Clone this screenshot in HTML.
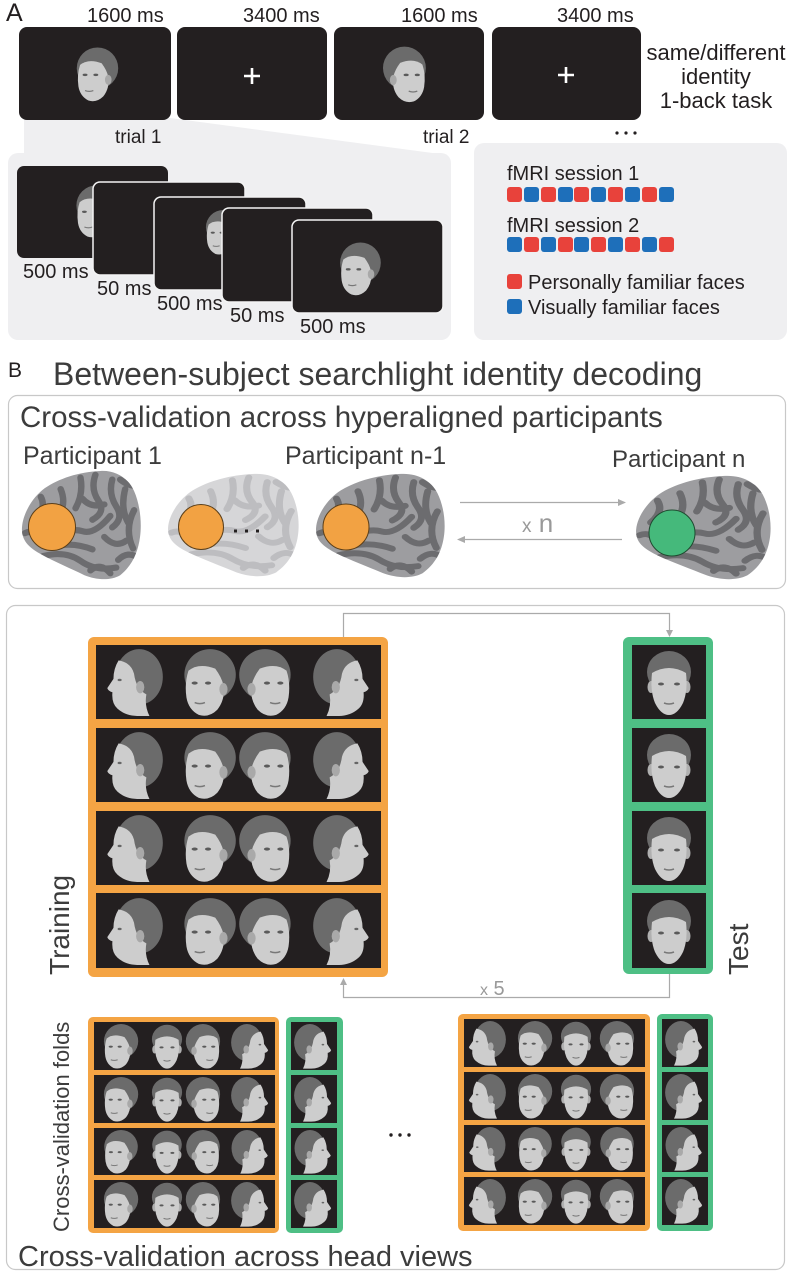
<!DOCTYPE html>
<html><head><meta charset="utf-8"><style>
html,body{margin:0;padding:0;background:#fff;}
svg{display:block;}
text{font-family:"Liberation Sans",Arial,sans-serif;fill:#231f20;}
.lt{fill:#3c3c3c;}
</style></head><body>
<svg width="792" height="1275" viewBox="0 0 792 1275" xmlns="http://www.w3.org/2000/svg" xmlns:xlink="http://www.w3.org/1999/xlink">
<defs>
 <g id="gL">
  <ellipse cx="36" cy="30" rx="23" ry="27" fill="#6b6b6b"/>
  <path d="M16,14 Q11,22 11,32 L5,41 Q6,44 10,45 Q9,56 15,61 Q23,68 34,68 L46,68 Q41,58 43,47 Q33,42 31,27 Q28,16 16,14 Z" fill="#cdcdcd"/>
  <ellipse cx="37" cy="40" rx="4" ry="6" fill="#a9a9a9"/>
  <ellipse cx="17" cy="33" rx="2" ry="1.2" fill="#666"/>
 </g>
 <g id="g3L">
  <ellipse cx="33" cy="28" rx="25" ry="25" fill="#6b6b6b"/>
  <path d="M12,24 Q22,16 38,22 Q44,30 46,38 Q48,52 40,62 Q32,70 22,67 Q12,62 10,50 Q8,36 12,24 Z" fill="#cdcdcd"/>
  <ellipse cx="46" cy="42" rx="4" ry="6" fill="#a9a9a9"/>
  <ellipse cx="18" cy="36" rx="3" ry="1.5" fill="#5a5a5a"/>
  <ellipse cx="31" cy="36" rx="3" ry="1.5" fill="#5a5a5a"/>
  <path d="M18,55 Q23,57 28,55" stroke="#777" stroke-width="1.5" fill="none"/>
 </g>
 <symbol id="hL" viewBox="0 0 60 70"><use xlink:href="#gL"/></symbol>
 <symbol id="hR" viewBox="0 0 60 70"><use xlink:href="#gL" transform="translate(60,0) scale(-1,1)"/></symbol>
 <symbol id="h3L" viewBox="0 0 60 70"><use xlink:href="#g3L"/></symbol>
 <symbol id="h3R" viewBox="0 0 60 70"><use xlink:href="#g3L" transform="translate(60,0) scale(-1,1)"/></symbol>
 <symbol id="hF" viewBox="0 0 60 70">
  <ellipse cx="30" cy="25" rx="22" ry="21" fill="#6b6b6b"/>
  <ellipse cx="12" cy="40" rx="3.5" ry="6" fill="#b0b0b0"/>
  <ellipse cx="48" cy="40" rx="3.5" ry="6" fill="#b0b0b0"/>
  <path d="M13,26 Q30,16 47,26 Q49,44 44,56 Q38,68 30,68 Q22,68 16,56 Q11,44 13,26 Z" fill="#cdcdcd"/>
  <ellipse cx="22" cy="37" rx="3" ry="1.5" fill="#5a5a5a"/>
  <ellipse cx="38" cy="37" rx="3" ry="1.5" fill="#5a5a5a"/>
  <path d="M25,56 Q30,58 35,56" stroke="#777" stroke-width="1.5" fill="none"/>
 </symbol>

 <clipPath id="bc"><path d="M1,60 C2,45 12,28 24,19 C38,9 58,2 80,1 C95,0 108,8 114,22 C120,36 122,55 120,70 C118,86 112,100 100,110 C90,116 76,115 64,110 C50,103 34,96 20,88 C10,82 0,75 1,60 Z"/></clipPath>
 <g id="gyri" fill="none" stroke-width="6.5" stroke-linecap="round" stroke-linejoin="round" clip-path="url(#bc)">
  <path d="M30,70 Q50,60 62,64 T90,48"/>
  <path d="M40,20 Q46,35 38,48 T45,62"/>
  <path d="M60,8 Q63,25 55,40"/>
  <path d="M75,5 Q70,20 78,32 T72,52"/>
  <path d="M92,10 Q88,25 96,38 T92,60"/>
  <path d="M105,20 Q100,40 108,55"/>
  <path d="M114,42 Q104,62 113,82"/>
  <path d="M22,90 Q45,84 60,95 T96,102"/>
  <path d="M34,80 Q52,75 72,83"/>
  <path d="M84,70 Q95,82 106,74"/>
  <path d="M14,52 Q26,40 20,28"/>
  <path d="M98,94 Q108,84 118,92"/>
  <path d="M62,30 Q70,40 84,36"/>
  <path d="M100,10 Q110,18 118,16"/>
  <path d="M70,105 Q80,96 90,108"/>
  <path d="M4,66 Q12,62 18,70"/>
 </g>
 <symbol id="brainD" viewBox="0 0 122 115" preserveAspectRatio="none">
  <path d="M1,60 C2,45 12,28 24,19 C38,9 58,2 80,1 C95,0 108,8 114,22 C120,36 122,55 120,70 C118,86 112,100 100,110 C90,116 76,115 64,110 C50,103 34,96 20,88 C10,82 0,75 1,60 Z" fill="#9d9da0"/>
  <use xlink:href="#gyri" stroke="#6c6c6f"/>
 </symbol>
 <symbol id="brainL" viewBox="0 0 122 115" preserveAspectRatio="none">
  <path d="M1,60 C2,45 12,28 24,19 C38,9 58,2 80,1 C95,0 108,8 114,22 C120,36 122,55 120,70 C118,86 112,100 100,110 C90,116 76,115 64,110 C50,103 34,96 20,88 C10,82 0,75 1,60 Z" fill="#d6d6d8"/>
  <use xlink:href="#gyri" stroke="#bdbdc0"/>
 </symbol>
</defs>

<!-- ===== Section A ===== -->
<text x="6" y="21" font-size="25">A</text>
<text x="87" y="22" font-size="20">1600 ms</text>
<text x="243" y="22" font-size="20">3400 ms</text>
<text x="401" y="22" font-size="20">1600 ms</text>
<text x="557" y="22" font-size="20">3400 ms</text>

<polygon points="24,118 170,118 440,154 24,154" fill="#efeff1"/>
<rect x="8" y="153" width="443" height="187" rx="10" fill="#efeff1"/>
<rect x="474" y="143" width="313" height="197" rx="10" fill="#efeff1"/>

<rect x="19" y="27" width="152" height="93" rx="8" fill="#231f20"/>
<rect x="177" y="27" width="150" height="93" rx="8" fill="#231f20"/>
<rect x="334" y="27" width="150" height="93" rx="8" fill="#231f20"/>
<rect x="492" y="27" width="149" height="93" rx="8" fill="#231f20"/>
<use xlink:href="#h3L" x="70" y="45" width="50" height="58"/>
<use xlink:href="#h3R" x="380" y="44" width="54" height="60"/>
<path d="M252,68 V84 M244,76 H260" stroke="#fff" stroke-width="2.6"/>
<path d="M566,67 V83 M558,75 H574" stroke="#fff" stroke-width="2.6"/>

<text x="115" y="143" font-size="19">trial 1</text>
<text x="423" y="143" font-size="19">trial 2</text>
<circle cx="617" cy="133" r="1.6" fill="#231f20"/>
<circle cx="626" cy="133" r="1.6" fill="#231f20"/>
<circle cx="635" cy="133" r="1.6" fill="#231f20"/>

<text x="716" y="60" font-size="22" text-anchor="middle">same/different</text>
<text x="716" y="84" font-size="22" text-anchor="middle">identity</text>
<text x="716" y="108" font-size="22" text-anchor="middle">1-back task</text>

<rect x="17" y="166" width="151" height="92" rx="7" fill="#231f20"/>
<use xlink:href="#h3L" x="70" y="183" width="48" height="56"/>
<rect x="93" y="182" width="152" height="93" rx="7" fill="#231f20" stroke="#f4f4f4" stroke-width="1.5"/>
<rect x="154" y="197" width="152" height="93" rx="7" fill="#231f20" stroke="#f4f4f4" stroke-width="1.5"/>
<use xlink:href="#h3L" x="200" y="208" width="42" height="48"/>
<rect x="222" y="208" width="151" height="94" rx="7" fill="#231f20" stroke="#f4f4f4" stroke-width="1.5"/>
<rect x="292" y="220" width="151" height="93" rx="7" fill="#231f20" stroke="#f4f4f4" stroke-width="1.5"/>
<use xlink:href="#h3L" x="333" y="240" width="50" height="57"/>

<text x="23" y="278" font-size="20">500 ms</text>
<text x="97" y="295" font-size="20">50 ms</text>
<text x="157" y="310" font-size="20">500 ms</text>
<text x="230" y="322" font-size="20">50 ms</text>
<text x="300" y="333" font-size="20">500 ms</text>

<text x="507" y="180" font-size="20">fMRI session 1</text>
<g>
 <rect x="507" y="187" width="15" height="15" rx="3" fill="#e8423b"/>
 <rect x="524" y="187" width="15" height="15" rx="3" fill="#1e6fba"/>
 <rect x="541" y="187" width="15" height="15" rx="3" fill="#e8423b"/>
 <rect x="558" y="187" width="15" height="15" rx="3" fill="#1e6fba"/>
 <rect x="574" y="187" width="15" height="15" rx="3" fill="#e8423b"/>
 <rect x="591" y="187" width="15" height="15" rx="3" fill="#1e6fba"/>
 <rect x="608" y="187" width="15" height="15" rx="3" fill="#e8423b"/>
 <rect x="625" y="187" width="15" height="15" rx="3" fill="#1e6fba"/>
 <rect x="642" y="187" width="15" height="15" rx="3" fill="#e8423b"/>
 <rect x="659" y="187" width="15" height="15" rx="3" fill="#1e6fba"/>
</g>
<text x="507" y="232" font-size="20">fMRI session 2</text>
<g>
 <rect x="507" y="237" width="15" height="15" rx="3" fill="#1e6fba"/>
 <rect x="524" y="237" width="15" height="15" rx="3" fill="#e8423b"/>
 <rect x="541" y="237" width="15" height="15" rx="3" fill="#1e6fba"/>
 <rect x="558" y="237" width="15" height="15" rx="3" fill="#e8423b"/>
 <rect x="574" y="237" width="15" height="15" rx="3" fill="#1e6fba"/>
 <rect x="591" y="237" width="15" height="15" rx="3" fill="#e8423b"/>
 <rect x="608" y="237" width="15" height="15" rx="3" fill="#1e6fba"/>
 <rect x="625" y="237" width="15" height="15" rx="3" fill="#e8423b"/>
 <rect x="642" y="237" width="15" height="15" rx="3" fill="#1e6fba"/>
 <rect x="659" y="237" width="15" height="15" rx="3" fill="#e8423b"/>
</g>
<rect x="507" y="274" width="15" height="15" rx="3" fill="#e8423b"/>
<text x="528" y="289" font-size="20">Personally familiar faces</text>
<rect x="507" y="299" width="15" height="15" rx="3" fill="#1e6fba"/>
<text x="528" y="314" font-size="20">Visually familiar faces</text>

<!-- ===== Section B ===== -->
<text x="8" y="377" font-size="21">B</text>
<text x="53" y="385" font-size="32" class="lt">Between-subject searchlight identity decoding</text>

<rect x="8.5" y="395.5" width="777" height="193" rx="9" fill="#fff" stroke="#c8c8c8" stroke-width="1.2"/>
<text x="20" y="427" font-size="29.5" class="lt">Cross-validation across hyperaligned participants</text>
<text x="23" y="464" font-size="25" class="lt">Participant 1</text>
<text x="285" y="464" font-size="25" class="lt">Participant n-1</text>
<text x="612" y="467" font-size="24" class="lt">Participant n</text>

<use xlink:href="#brainD" x="21" y="470" width="121" height="110"/>
<circle cx="52" cy="527" r="23.5" fill="#f2a243" stroke="#5b3f1a" stroke-width="1"/>
<use xlink:href="#brainL" x="167" y="473" width="133" height="104"/>
<circle cx="201" cy="527" r="22.5" fill="#f2a243" stroke="#5b3f1a" stroke-width="1"/>
<rect x="234" y="529.5" width="3" height="3" fill="#231f20"/>
<rect x="245" y="529.5" width="3" height="3" fill="#231f20"/>
<rect x="256" y="529.5" width="3" height="3" fill="#231f20"/>
<use xlink:href="#brainD" x="315" y="473" width="131" height="105"/>
<circle cx="346" cy="527" r="23" fill="#f2a243" stroke="#5b3f1a" stroke-width="1"/>
<use xlink:href="#brainD" x="635" y="475" width="137" height="105"/>
<circle cx="672" cy="533" r="23" fill="#45b97b" stroke="#1f4a30" stroke-width="1"/>

<line x1="460" y1="502.5" x2="621" y2="502.5" stroke="#aaa" stroke-width="1.3"/>
<polygon points="626,502.5 618,499 618,506" fill="#aaa"/>
<line x1="622" y1="539.5" x2="462" y2="539.5" stroke="#aaa" stroke-width="1.3"/>
<polygon points="457,539.5 465,536 465,543" fill="#aaa"/>
<text x="522" y="532" font-size="26" style="fill:#999"><tspan font-size="19">x</tspan> n</text>

<rect x="6.5" y="605.5" width="778" height="664" rx="9" fill="#fff" stroke="#c8c8c8" stroke-width="1.2"/>

<path d="M343.5,637 V613.5 H669.5 V631" fill="none" stroke="#aaa" stroke-width="1.2"/>
<polygon points="669.5,637 666,630 673,630" fill="#aaa"/>
<path d="M669.5,974 V997.5 H343.5 V984" fill="none" stroke="#aaa" stroke-width="1.2"/>
<polygon points="343.5,978 340,985 347,985" fill="#aaa"/>
<text x="480" y="995" font-size="20" style="fill:#999"><tspan font-size="16">x</tspan> 5</text>

<rect x="88" y="637" width="300" height="340" rx="6" fill="#f4a444"/>
<g fill="#231f20">
 <rect x="96" y="645" width="285" height="74"/>
 <rect x="96" y="728" width="285" height="74"/>
 <rect x="96" y="811" width="285" height="74"/>
 <rect x="96" y="893" width="285" height="75"/>
</g>
<g>
 <use xlink:href="#hL" x="101" y="646" width="64" height="72"/>
 <use xlink:href="#h3L" x="175" y="646" width="64" height="72"/>
 <use xlink:href="#h3R" x="236" y="646" width="64" height="72"/>
 <use xlink:href="#hR" x="311" y="646" width="64" height="72"/>
 <use xlink:href="#hL" x="101" y="729" width="64" height="72"/>
 <use xlink:href="#h3L" x="175" y="729" width="64" height="72"/>
 <use xlink:href="#h3R" x="236" y="729" width="64" height="72"/>
 <use xlink:href="#hR" x="311" y="729" width="64" height="72"/>
 <use xlink:href="#hL" x="101" y="812" width="64" height="72"/>
 <use xlink:href="#h3L" x="175" y="812" width="64" height="72"/>
 <use xlink:href="#h3R" x="236" y="812" width="64" height="72"/>
 <use xlink:href="#hR" x="311" y="812" width="64" height="72"/>
 <use xlink:href="#hL" x="101" y="895" width="64" height="72"/>
 <use xlink:href="#h3L" x="175" y="895" width="64" height="72"/>
 <use xlink:href="#h3R" x="236" y="895" width="64" height="72"/>
 <use xlink:href="#hR" x="311" y="895" width="64" height="72"/>
</g>

<rect x="623" y="637" width="90" height="337" rx="6" fill="#4ebf85"/>
<g fill="#231f20">
 <rect x="632" y="645" width="74" height="74"/>
 <rect x="632" y="728" width="74" height="74"/>
 <rect x="632" y="811" width="74" height="74"/>
 <rect x="632" y="893" width="74" height="75"/>
</g>
<use xlink:href="#hF" x="639" y="646" width="60" height="72"/>
<use xlink:href="#hF" x="639" y="729" width="60" height="72"/>
<use xlink:href="#hF" x="639" y="812" width="60" height="72"/>
<use xlink:href="#hF" x="639" y="895" width="60" height="72"/>

<text transform="translate(69,975) rotate(-90)" font-size="28" class="lt">Training</text>
<text transform="translate(748,975) rotate(-90)" font-size="28" class="lt">Test</text>

<text transform="translate(69,1232) rotate(-90)" font-size="22" class="lt">Cross-validation folds</text>

<rect x="88" y="1017" width="191" height="216" rx="5" fill="#f4a444"/>
<g fill="#231f20">
 <rect x="94" y="1022" width="181" height="48"/>
 <rect x="94" y="1075" width="181" height="48"/>
 <rect x="94" y="1128" width="181" height="47"/>
 <rect x="94" y="1180" width="181" height="48"/>
</g>
<g>
 <use xlink:href="#h3L" x="97" y="1022" width="44" height="48"/>
 <use xlink:href="#hF" x="145" y="1022" width="44" height="48"/>
 <use xlink:href="#h3R" x="183" y="1022" width="44" height="48"/>
 <use xlink:href="#hR" x="229" y="1022" width="44" height="48"/>
 <use xlink:href="#h3L" x="97" y="1075" width="44" height="48"/>
 <use xlink:href="#hF" x="145" y="1075" width="44" height="48"/>
 <use xlink:href="#h3R" x="183" y="1075" width="44" height="48"/>
 <use xlink:href="#hR" x="229" y="1075" width="44" height="48"/>
 <use xlink:href="#h3L" x="97" y="1128" width="44" height="47"/>
 <use xlink:href="#hF" x="145" y="1128" width="44" height="47"/>
 <use xlink:href="#h3R" x="183" y="1128" width="44" height="47"/>
 <use xlink:href="#hR" x="229" y="1128" width="44" height="47"/>
 <use xlink:href="#h3L" x="97" y="1180" width="44" height="48"/>
 <use xlink:href="#hF" x="145" y="1180" width="44" height="48"/>
 <use xlink:href="#h3R" x="183" y="1180" width="44" height="48"/>
 <use xlink:href="#hR" x="229" y="1180" width="44" height="48"/>
</g>

<rect x="286" y="1017" width="57" height="216" rx="5" fill="#4ebf85"/>
<g fill="#231f20">
 <rect x="291" y="1022" width="46" height="48"/>
 <rect x="291" y="1075" width="46" height="48"/>
 <rect x="291" y="1128" width="46" height="47"/>
 <rect x="291" y="1180" width="46" height="48"/>
</g>
<use xlink:href="#hR" x="292" y="1022" width="44" height="48"/>
<use xlink:href="#hR" x="292" y="1075" width="44" height="48"/>
<use xlink:href="#hR" x="292" y="1128" width="44" height="47"/>
<use xlink:href="#hR" x="292" y="1180" width="44" height="48"/>

<circle cx="391" cy="1135" r="1.7" fill="#231f20"/>
<circle cx="400" cy="1135" r="1.7" fill="#231f20"/>
<circle cx="409" cy="1135" r="1.7" fill="#231f20"/>

<rect x="458" y="1014" width="192" height="217" rx="5" fill="#f4a444"/>
<g fill="#231f20">
 <rect x="464" y="1019" width="181" height="48"/>
 <rect x="464" y="1072" width="181" height="48"/>
 <rect x="464" y="1125" width="181" height="47"/>
 <rect x="464" y="1177" width="181" height="48"/>
</g>
<g>
 <use xlink:href="#hL" x="464" y="1019" width="44" height="48"/>
 <use xlink:href="#h3L" x="511" y="1019" width="44" height="48"/>
 <use xlink:href="#hF" x="554" y="1019" width="44" height="48"/>
 <use xlink:href="#h3R" x="597" y="1019" width="44" height="48"/>
 <use xlink:href="#hL" x="464" y="1072" width="44" height="48"/>
 <use xlink:href="#h3L" x="511" y="1072" width="44" height="48"/>
 <use xlink:href="#hF" x="554" y="1072" width="44" height="48"/>
 <use xlink:href="#h3R" x="597" y="1072" width="44" height="48"/>
 <use xlink:href="#hL" x="464" y="1125" width="44" height="47"/>
 <use xlink:href="#h3L" x="511" y="1125" width="44" height="47"/>
 <use xlink:href="#hF" x="554" y="1125" width="44" height="47"/>
 <use xlink:href="#h3R" x="597" y="1125" width="44" height="47"/>
 <use xlink:href="#hL" x="464" y="1177" width="44" height="48"/>
 <use xlink:href="#h3L" x="511" y="1177" width="44" height="48"/>
 <use xlink:href="#hF" x="554" y="1177" width="44" height="48"/>
 <use xlink:href="#h3R" x="597" y="1177" width="44" height="48"/>
</g>

<rect x="657" y="1014" width="56" height="217" rx="5" fill="#4ebf85"/>
<g fill="#231f20">
 <rect x="662" y="1019" width="46" height="48"/>
 <rect x="662" y="1072" width="46" height="48"/>
 <rect x="662" y="1125" width="46" height="47"/>
 <rect x="662" y="1177" width="46" height="48"/>
</g>
<use xlink:href="#hR" x="663" y="1019" width="44" height="48"/>
<use xlink:href="#hR" x="663" y="1072" width="44" height="48"/>
<use xlink:href="#hR" x="663" y="1125" width="44" height="47"/>
<use xlink:href="#hR" x="663" y="1177" width="44" height="48"/>

<text x="18" y="1266" font-size="29" class="lt">Cross-validation across head views</text>
</svg>
</body></html>
